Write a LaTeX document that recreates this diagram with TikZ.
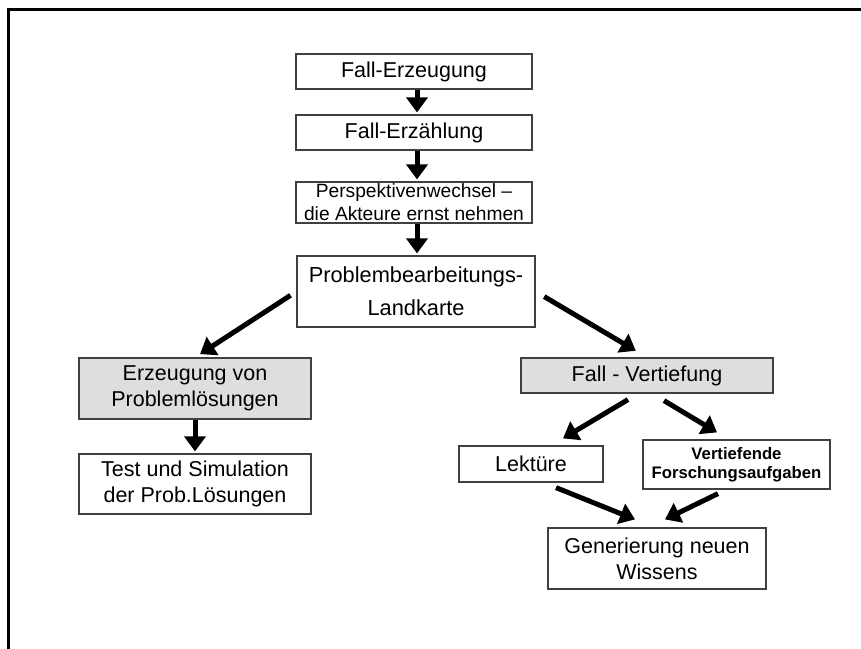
\documentclass[tikz,border=0pt]{standalone}
\usepackage{fontspec}
\setmainfont{Liberation Sans}
\usetikzlibrary{arrows.meta}
\definecolor{boxgray}{HTML}{DEDEDE}
\definecolor{edgegray}{HTML}{404040}
\tikzset{
  box/.style={draw=edgegray, line width=1.2pt, fill=white, align=center, inner sep=0pt,
              font=\fontsize{21.5}{26}\selectfont},
  graybox/.style={box, fill=boxgray},
  arr/.style={line width=5pt, -{Triangle[length=15pt,width=21pt]}},
  frame/.style={line width=3pt, line cap=rect}
}
\begin{document}
\begin{tikzpicture}[x=1pt,y=-1pt]
\useasboundingbox (0,0) rectangle (861,648);
\coordinate (fa) at (8,660);
\coordinate (fb) at (8,9);
\coordinate (fc) at (870,9);
\draw[frame] (fa) -- (fb) -- (fc);

\node[box, minimum width=236pt, minimum height=35pt] (fe) at (414,71.5) {Fall-Erzeugung};
\node[box, minimum width=236pt, minimum height=35pt] (fz) at (414,132.5) {Fall-Erzählung};
\node[box, minimum width=236pt, minimum height=41pt, font=\fontsize{19.2}{23}\selectfont] (pw) at (414,202.5) {Perspektivenwechsel --\\die Akteure ernst nehmen};
\node[box, minimum width=238pt, minimum height=71pt, font=\fontsize{21.8}{33}\selectfont] (pb) at (416,291.5) {Problembearbeitungs-\\Landkarte};

\node[graybox, minimum width=232pt, minimum height=61pt] (erz) at (195,388.5) {Erzeugung von\\Problemlösungen};
\node[box, minimum width=232pt, minimum height=60pt] (test) at (195,484) {Test und Simulation\\der Prob.Lösungen};

\node[graybox, minimum width=252pt, minimum height=35pt] (fv) at (647,375.5) {Fall - Vertiefung};
\node[box, minimum width=144pt, minimum height=36pt] (lek) at (531,464) {Lektüre};
\node[box, minimum width=187pt, minimum height=49pt, font=\bfseries\fontsize{16.7}{18.5}\selectfont] (vf) at (736.5,464.5) {Vertiefende\\Forschungsaufgaben};
\node[box, minimum width=218pt, minimum height=61pt] (gen) at (657,558.5) {Generierung neuen\\Wissens};

\draw[arr] ([shift={(3,0)}]fe.south) -- ([shift={(3,-2)}]fz.north);
\draw[arr] ([shift={(3,0)}]fz.south) -- ([shift={(3,-2)}]pw.north);
\draw[arr] ([shift={(3,0)}]pw.south) -- ([shift={(1,-2)}]pb.north);
\draw[arr, shorten <=7pt, shorten >=6pt] (pb.west) -- (erz.north);
\draw[arr, shorten <=10pt, shorten >=13pt] (pb.east) -- (fv.north);
\draw[arr] (erz.south) -- ([shift={(0,-2)}]test.north);
\draw[arr] ([shift={(-19,6)}]fv.south) -- ([shift={(32,-7)}]lek.north);
\draw[arr] ([shift={(17,7)}]fv.south) -- ([shift={(-19.5,-7)}]vf.north);
\draw[arr] ([shift={(25,5)}]lek.south) -- ([shift={(-22,-8)}]gen.north);
\draw[arr] ([shift={(-18.5,4)}]vf.south) -- ([shift={(8,-8)}]gen.north);
\end{tikzpicture}
\end{document}
